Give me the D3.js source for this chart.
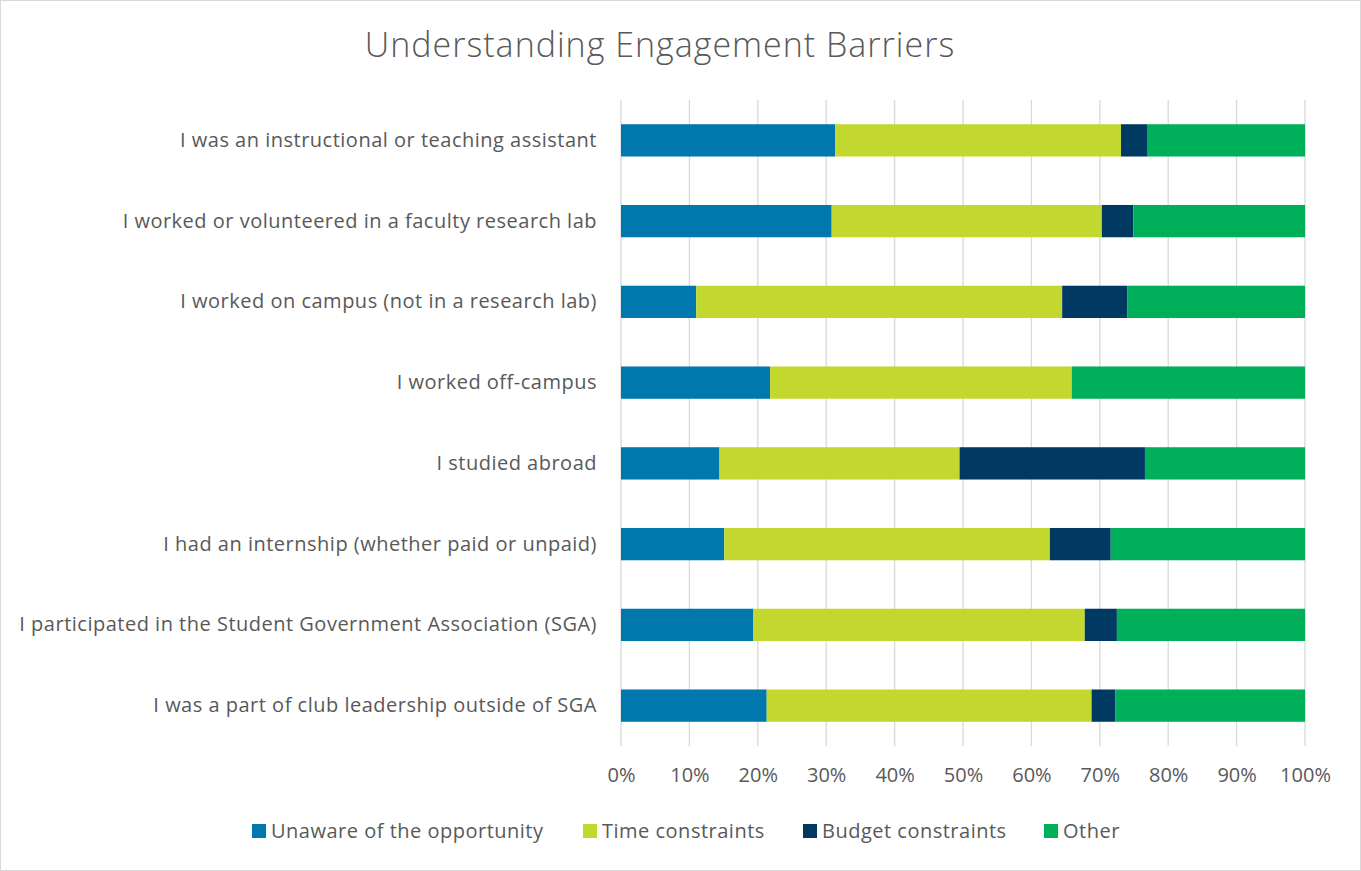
<!DOCTYPE html>
<html>
<head>
<meta charset="utf-8">
<script src="https://cdn.jsdelivr.net/npm/d3@7"></script>
<style>
  html, body { margin: 0; padding: 0; background: #fff; }
  svg text { font-family: "Open Sans", "Liberation Sans", sans-serif; fill: #595959; }
</style>
</head>
<body>
<div id="chart"></div>
<script>
// ---------- Data ----------
const categories = [
  "I was an instructional or teaching assistant",
  "I worked or volunteered in a faculty research lab",
  "I worked on campus (not in a research lab)",
  "I worked off-campus",
  "I studied abroad",
  "I had an internship (whether paid or unpaid)",
  "I participated in the Student Government Association (SGA)",
  "I was a part of club leadership outside of SGA"
];
const seriesNames = ["Unaware of the opportunity", "Time constraints", "Budget constraints", "Other"];
const unaware = [31.3, 30.8, 11.0, 21.8, 14.4, 15.1, 19.3, 21.3];
const timeC   = [41.8, 39.5, 53.5, 44.1, 35.1, 47.6, 48.5, 47.5];
const budget  = [ 3.9,  4.6,  9.5,  0.0, 27.1,  8.9,  4.7,  3.5];
const other   = [23.0, 25.1, 26.0, 34.1, 23.4, 28.4, 27.5, 27.7];
const xTicks  = [0, 10, 20, 30, 40, 50, 60, 70, 80, 90, 100];
const seriesColors = ["#0078ae", "#c2d82e", "#003a63", "#00af5a"];

// ---------- Layout ----------
const W = 1361, H = 871;
const margin = { top: 100, right: 56, bottom: 125, left: 621 };
const width = W - margin.left - margin.right;
const height = H - margin.top - margin.bottom;

const rows = categories.map((c, i) => ({
  cat: c,
  [seriesNames[0]]: unaware[i],
  [seriesNames[1]]: timeC[i],
  [seriesNames[2]]: budget[i],
  [seriesNames[3]]: other[i]
}));

const svg = d3.select("#chart").append("svg")
  .attr("width", W).attr("height", H);

svg.append("rect")
  .attr("x", 0.5).attr("y", 0.5)
  .attr("width", W - 1).attr("height", H - 1)
  .attr("fill", "#fff").attr("stroke", "#d9d9d9");

svg.append("text")
  .attr("x", 660).attr("y", 57)
  .attr("text-anchor", "middle")
  .style("font-size", "34px")
  .style("font-weight", 300)
  .style("letter-spacing", "1px")
  .text("Understanding Engagement Barriers");

const g = svg.append("g").attr("transform", `translate(${margin.left},${margin.top})`);

const x = d3.scaleLinear().domain([0, 100]).range([0, width]);
const y = d3.scaleBand().domain(categories).range([0, height]).paddingInner(0.6).paddingOuter(0.3);

// gridlines
g.append("g").selectAll("line")
  .data(xTicks)
  .join("line")
  .attr("x1", d => x(d)).attr("x2", d => x(d))
  .attr("y1", 0).attr("y2", height)
  .attr("stroke", "#d9d9d9").attr("stroke-width", 1.3);

// stacked bars
const color = d3.scaleOrdinal().domain(seriesNames).range(seriesColors);
const stacked = d3.stack().keys(seriesNames)(rows);

g.append("g").selectAll("g.layer")
  .data(stacked)
  .join("g")
  .attr("class", "layer")
  .attr("fill", d => color(d.key))
  .selectAll("rect")
  .data(d => d)
  .join("rect")
  .attr("x", d => x(d[0]))
  .attr("width", d => x(d[1]) - x(d[0]))
  .attr("y", d => y(d.data.cat))
  .attr("height", y.bandwidth());

// category labels
const yAxis = g.append("g").call(d3.axisLeft(y).tickSize(0).tickPadding(24));
yAxis.select(".domain").remove();
yAxis.selectAll("text")
  .style("font-size", "20px")
  .style("letter-spacing", "0.5px")
  .attr("fill", null);

// x tick labels
const xAxis = g.append("g")
  .attr("transform", `translate(0,${height})`)
  .call(d3.axisBottom(x).tickValues(xTicks).tickFormat(d => d + "%").tickSize(0).tickPadding(22));
xAxis.select(".domain").remove();
xAxis.selectAll("text")
  .style("font-size", "20px")
  .attr("fill", null);

// legend
const legendX = [252, 583, 803, 1044];
const legend = svg.append("g").attr("transform", "translate(0,831)");
const item = legend.selectAll("g")
  .data(seriesNames)
  .join("g")
  .attr("transform", (d, i) => `translate(${legendX[i]},0)`);
item.append("rect")
  .attr("x", 0).attr("y", -7)
  .attr("width", 14).attr("height", 14)
  .attr("fill", d => color(d));
item.append("text")
  .attr("x", 19).attr("y", 0)
  .attr("dy", "0.35em")
  .style("font-size", "20px")
  .style("letter-spacing", "0.5px")
  .text(d => d);
</script>
</body>
</html>
